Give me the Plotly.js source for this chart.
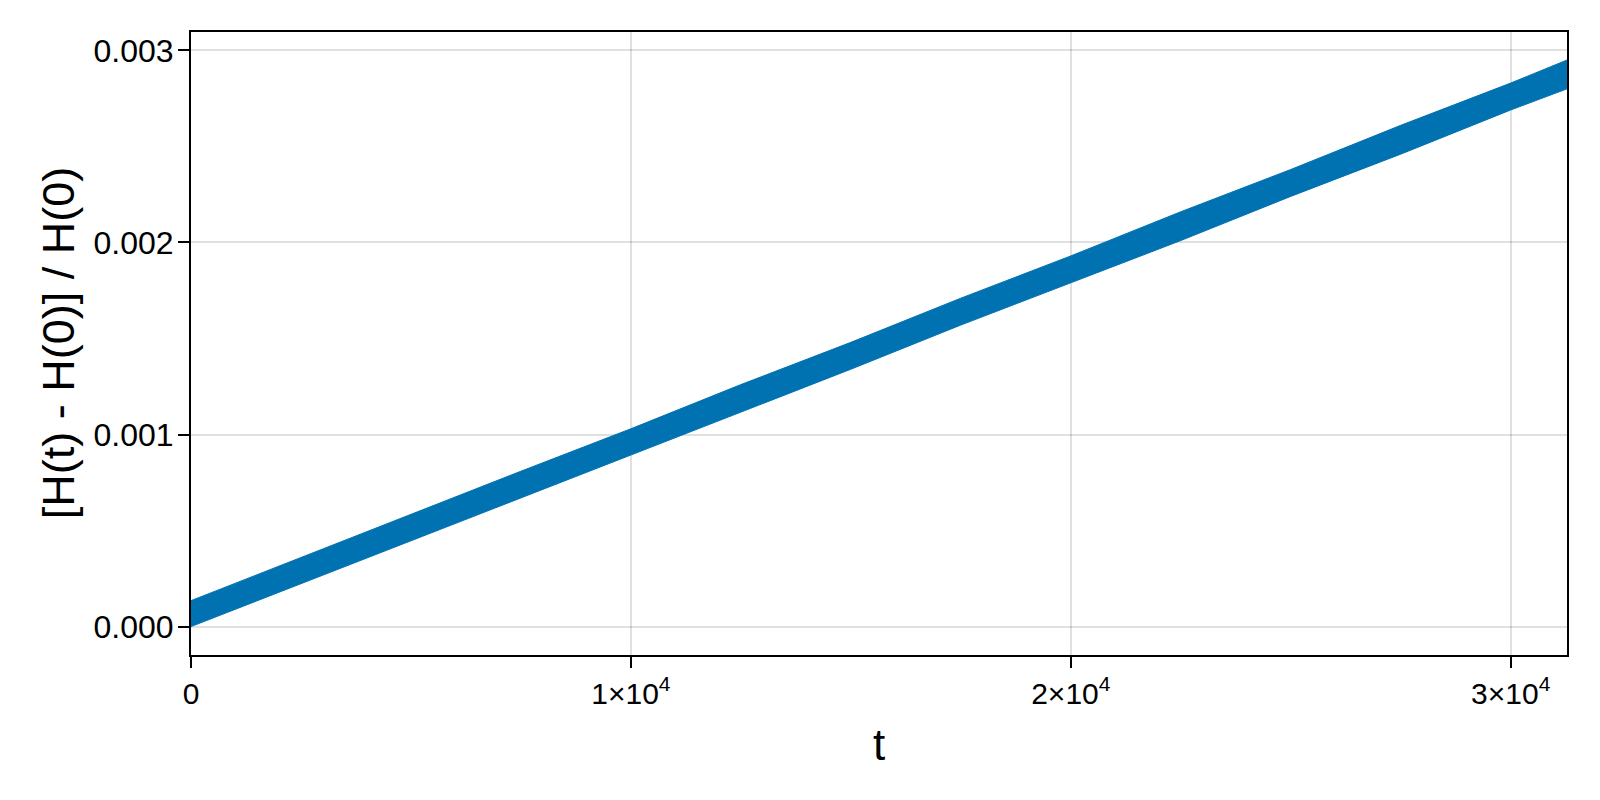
<!DOCTYPE html>
<html>
<head>
<meta charset="utf-8">
<script src="https://cdn.plot.ly/plotly-3.0.1.min.js"></script>
<style>
  html, body { margin: 0; padding: 0; background: #ffffff; }
  #chart { width: 1600px; height: 800px; }
</style>
</head>
<body>
<div id="chart"></div>
<script>
const tValues = [0, 2500, 5000, 7500, 10000, 12500, 15000, 17500, 20000, 22500, 25000, 27500, 30000, 31280];
// Lower envelope of the oscillating relative energy error
const lowerEnvelope = [0.00000, 0.000224, 0.000447, 0.000671, 0.000894, 0.00112, 0.00134, 0.00157, 0.00179, 0.00201, 0.00224, 0.00246, 0.00269, 0.00280];
// Upper envelope of the oscillating relative energy error
const upperEnvelope = [0.000135, 0.000360, 0.000585, 0.000809, 0.00103, 0.00126, 0.00148, 0.00171, 0.00193, 0.00216, 0.00238, 0.00261, 0.00283, 0.00295];

// Axis ticks
const xTickVals = [0, 10000, 20000, 30000];
const xTickText = ['0', '1×10<sup>4</sup>', '2×10<sup>4</sup>', '3×10<sup>4</sup>'];
const yTickVals = [0, 0.001, 0.002, 0.003];
const yTickText = ['0.000', '0.001', '0.002', '0.003'];

const xLabel = 't';
const yLabel = '[H(t) - H(0)] / H(0)';

const blue = '#0072b2';

const traces = [
  {
    x: tValues, y: lowerEnvelope, type: 'scatter', mode: 'lines',
    line: { color: blue, width: 1 }, hoverinfo: 'skip', showlegend: false
  },
  {
    x: tValues, y: upperEnvelope, type: 'scatter', mode: 'lines',
    fill: 'tonexty', fillcolor: blue,
    line: { color: blue, width: 1 }, showlegend: false
  }
];

const fontFam = '"Liberation Sans", Arial, Helvetica, sans-serif';

const layout = {
  width: 1600, height: 800,
  paper_bgcolor: '#ffffff', plot_bgcolor: '#ffffff',
  margin: { l: 191, r: 33, t: 32, b: 145 },
  font: { family: fontFam, color: '#000000', size: 32 },
  showlegend: false,
  xaxis: {
    range: [0, 31280],
    tickvals: xTickVals, ticktext: xTickText,
    showgrid: true, gridcolor: 'rgba(0,0,0,0.12)', gridwidth: 2,
    zeroline: false,
    showline: true, linecolor: '#000000', linewidth: 2, mirror: true,
    ticks: 'outside', ticklen: 11, tickwidth: 2, tickcolor: '#000000',
    tickfont: { family: fontFam, size: 30, color: '#000000' },
    title: { text: xLabel, font: { family: fontFam, size: 44, color: '#000000' }, standoff: 20 }
  },
  yaxis: {
    range: [-0.000148, 0.003096],
    tickvals: yTickVals, ticktext: yTickText,
    showgrid: true, gridcolor: 'rgba(0,0,0,0.12)', gridwidth: 2,
    zeroline: false,
    showline: true, linecolor: '#000000', linewidth: 2, mirror: true,
    ticks: 'outside', ticklen: 11, tickwidth: 2, tickcolor: '#000000',
    tickfont: { family: fontFam, size: 32, color: '#000000' },
    ticklabelstandoff: -2
  },
  annotations: [
    {
      text: yLabel, xref: 'paper', yref: 'paper',
      x: -0.0962, y: 0.5, xanchor: 'center', yanchor: 'middle',
      textangle: -90, showarrow: false,
      font: { family: fontFam, size: 45, color: '#000000' }
    }
  ]
};

Plotly.newPlot('chart', traces, layout, { displayModeBar: false, staticPlot: true });
</script>
</body>
</html>
